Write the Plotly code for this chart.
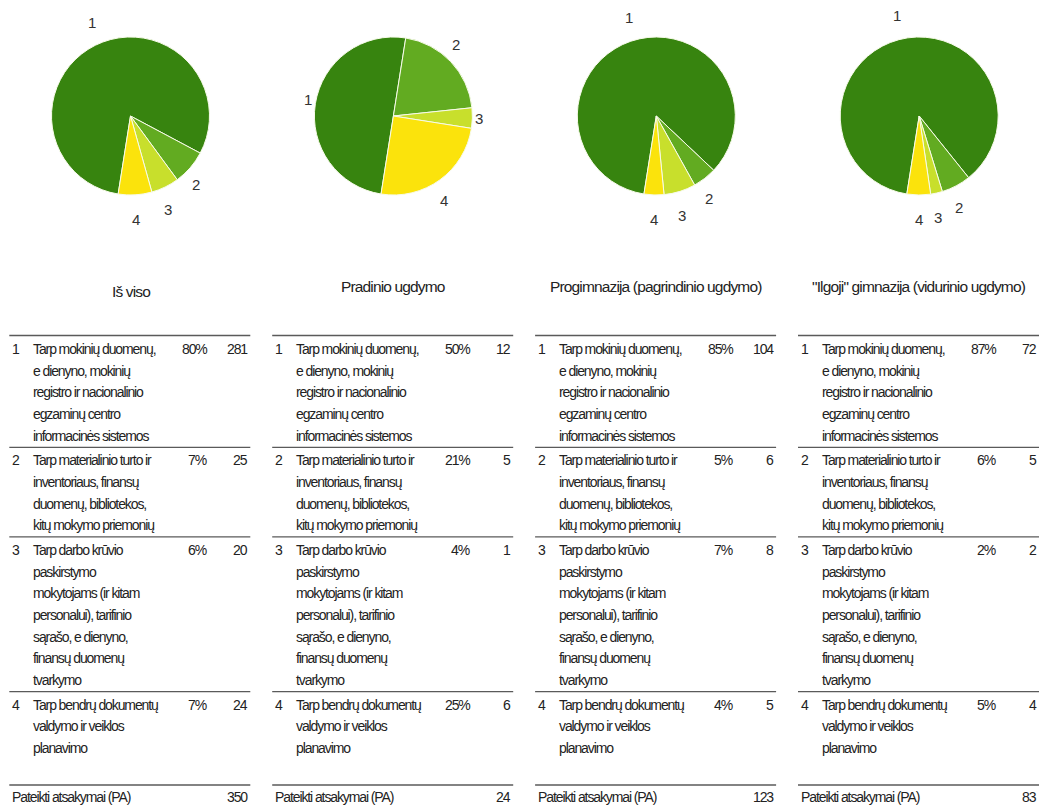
import math
import plotly.graph_objects as go

# ---- data ---------------------------------------------------------------
groups = [
    "Iš viso",
    "Pradinio ugdymo",
    "Progimnazija (pagrindinio ugdymo)",
    "\"Ilgoji\" gimnazija (vidurinio ugdymo)",
]
option_ids = ["1", "2", "3", "4"]
option_lines = [
    ["Tarp mokinių duomenų,", "e dienyno, mokinių", "registro ir nacionalinio",
     "egzaminų centro", "informacinės sistemos"],
    ["Tarp materialinio turto ir", "inventoriaus, finansų",
     "duomenų, bibliotekos,", "kitų mokymo priemonių"],
    ["Tarp darbo krūvio", "paskirstymo", "mokytojams (ir kitam",
     "personalui), tarifinio", "sąrašo, e dienyno,", "finansų duomenų", "tvarkymo"],
    ["Tarp bendrų dokumentų", "valdymo ir veiklos", "planavimo"],
]
counts_total = [281, 25, 20, 24]
counts_primary = [12, 5, 1, 6]
counts_progymnasium = [104, 6, 8, 5]
counts_gymnasium = [72, 5, 2, 4]
responses = [350, 24, 123, 83]
footer_label = "Pateikti atsakymai (PA)"

slice_colors = ["#37840f", "#62ab21", "#c8df2c", "#fbe30c"]

# ---- layout constants ---------------------------------------------------
W, H = 1039, 805
FONT = "Liberation Sans, Arial, sans-serif"
TXT = "#222222"
col_step = 262.9
col_x0 = 9.3
col_w = 241
pie_cx0 = 130.5
pie_cy = 116
pie_r = 79
start_angle = 189          # first slice starts just past 6 o'clock, clockwise
label_rx, label_ry = 86, 104
title_y = [291, 287, 287, 287]
line_h = 21.7
table_size = 14
table_ls = -1.1


def px(x):
    return x / W


def py(y):
    return 1 - y / H


def narrow(s, ls=table_ls):
    return f'<span style="letter-spacing:{ls}px">{s}</span>'


fig = go.Figure()
annotations = []
shapes = []

all_counts = [counts_total, counts_primary, counts_progymnasium, counts_gymnasium]

for g, (name, counts, total) in enumerate(zip(groups, all_counts, responses)):
    cx = pie_cx0 + g * col_step
    fig.add_trace(go.Pie(
        labels=option_ids,
        values=counts,
        sort=False,
        direction="clockwise",
        rotation=start_angle,
        textinfo="none",
        marker=dict(colors=slice_colors, line=dict(color="#f7fbea", width=1)),
        domain=dict(x=[px(cx - pie_r), px(cx + pie_r)],
                    y=[py(pie_cy + pie_r), py(pie_cy - pie_r)]),
        showlegend=False,
        hoverinfo="label+value+percent",
    ))

    # slice number labels around each pie, at the middle angle of each slice
    s = sum(counts)
    acc = 0
    for k, c in enumerate(counts):
        mid = math.radians(start_angle + (acc + c / 2) / s * 360)
        acc += c
        lx = cx + label_rx * math.sin(mid)
        ly = pie_cy - label_ry * math.cos(mid)
        annotations.append(dict(
            x=px(lx), y=py(ly), xref="paper", yref="paper",
            text=option_ids[k], showarrow=False,
            xanchor="center", yanchor="middle",
            font=dict(family=FONT, size=15, color="#333333"),
        ))

    # group title
    annotations.append(dict(
        x=px(cx), y=py(title_y[g]), xref="paper", yref="paper",
        text=narrow(name, -0.85), showarrow=False,
        xanchor="center", yanchor="middle",
        font=dict(family=FONT, size=15.5, color=TXT),
    ))

    # table
    x0 = col_x0 + g * col_step
    x1 = x0 + col_w
    row_font = dict(family=FONT, size=table_size, color=TXT)
    y_line = 335.5
    shapes.append(dict(type="line", xref="paper", yref="paper",
                       x0=px(x0), x1=px(x1), y0=py(y_line), y1=py(y_line),
                       line=dict(color="#5a5a5a", width=1.3)))
    y = y_line + 13.5
    for k, lines in enumerate(option_lines):
        pct = int(counts[k] / total * 100 + 0.5)
        annotations.append(dict(x=px(x0 + 1), y=py(y), xref="paper", yref="paper",
                                text=narrow(option_ids[k]), showarrow=False,
                                xanchor="left", yanchor="middle", font=row_font))
        annotations.append(dict(x=px(x0 + 200), y=py(y), xref="paper", yref="paper",
                                text=narrow(f"{pct}%"), showarrow=False,
                                xanchor="right", yanchor="middle", font=row_font))
        annotations.append(dict(x=px(x1), y=py(y), xref="paper", yref="paper",
                                text=narrow(str(counts[k])), showarrow=False,
                                xanchor="right", yanchor="middle", font=row_font))
        for j, ln in enumerate(lines):
            annotations.append(dict(x=px(x0 + 22), y=py(y + j * line_h),
                                    xref="paper", yref="paper", text=narrow(ln),
                                    showarrow=False, xanchor="left", yanchor="middle",
                                    font=row_font))
        last = y + (len(lines) - 1) * line_h
        if k < len(option_lines) - 1:
            y_line = last + 11.5
            y = y_line + 13
        else:
            y_line = last + 37
        shapes.append(dict(type="line", xref="paper", yref="paper",
                           x0=px(x0), x1=px(x1), y0=py(y_line), y1=py(y_line),
                           line=dict(color="#5a5a5a", width=1.3)))

    # footer
    fy = y_line + 12.5
    annotations.append(dict(x=px(x0 + 1), y=py(fy), xref="paper", yref="paper",
                            text=narrow(footer_label), showarrow=False,
                            xanchor="left", yanchor="middle", font=row_font))
    annotations.append(dict(x=px(x1), y=py(fy), xref="paper", yref="paper",
                            text=narrow(str(total)), showarrow=False,
                            xanchor="right", yanchor="middle", font=row_font))

fig.update_layout(
    width=W, height=H,
    margin=dict(l=0, r=0, t=0, b=0),
    paper_bgcolor="#ffffff",
    plot_bgcolor="#ffffff",
    annotations=annotations,
    shapes=shapes,
    font=dict(family=FONT, color=TXT),
)

fig.write_html("out.html")
